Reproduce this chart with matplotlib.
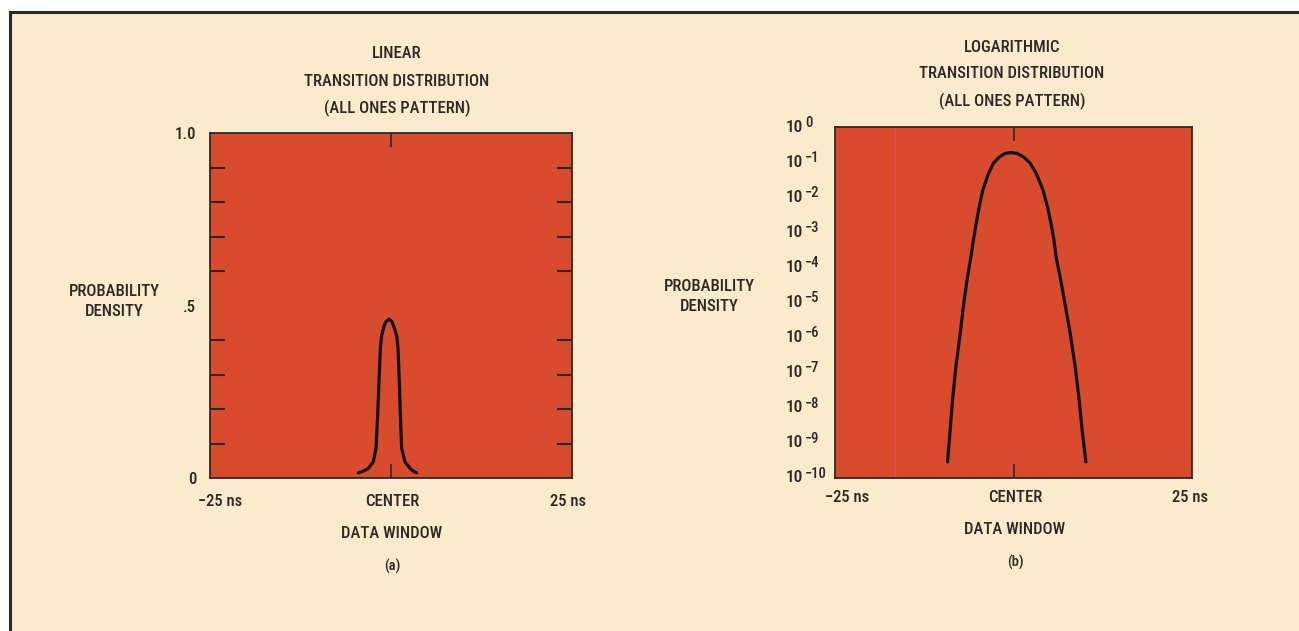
import matplotlib
matplotlib.use("Agg")
import matplotlib.pyplot as plt
from matplotlib import font_manager
from matplotlib.lines import Line2D
from matplotlib.patches import Rectangle
from matplotlib.transforms import blended_transform_factory
import numpy as np

# colours
PAPER = "#f9ebcc"
RED = "#d84b2d"
INK = "#2f2724"

FONT = "Liberation Sans"
for name in ["Liberation Sans Narrow", "Roboto Condensed", "Open Sans Condensed"]:
    try:
        font_manager.findfont(name, fallback_to_default=False)
        FONT = name
        break
    except ValueError:
        pass

plt.rcParams['font.family'] = [FONT, 'DejaVu Sans']
plt.rcParams['font.weight'] = 'medium'

# data
# (a) linear transition distribution, time in ns, probability density
lin_t = [-4.51, -3.80, -3.13, -2.44, -2.07, -1.84, -1.66, -1.47, -1.29, -0.92, -0.69, -0.28,
         0.14, 0.32, 0.78, 0.97, 1.15, 1.29, 1.47, 1.93, 2.62, 3.05, 3.55]
lin_p = [0.015, 0.020, 0.028, 0.047, 0.086, 0.183, 0.279, 0.376, 0.414, 0.443, 0.453, 0.461,
         0.453, 0.443, 0.414, 0.376, 0.279, 0.183, 0.086, 0.047, 0.028, 0.020, 0.015]

# (b) logarithmic transition distribution, log10 of density
log_t = [-9.24, -8.91, -8.54, -8.07, -7.46, -7.00, -6.50, -6.00, -5.60, -5.22, -4.80, -4.29,
         -3.50, -2.80, -1.96, -1.16, -0.37, 0.48, 1.40, 2.34, 3.18, 4.12, 4.76, 5.24, 5.65,
         6.00, 6.60, 7.24, 7.94, 8.64, 9.20, 9.66, 10.14]
log_p = [-9.54, -8.73, -7.78, -6.83, -5.88, -5.07, -4.35, -3.74, -3.20, -2.74, -2.27, -1.79,
         -1.32, -1.03, -0.85, -0.75, -0.73, -0.75, -0.85, -1.03, -1.32, -1.79, -2.27, -2.74, -3.20,
         -3.74, -4.35, -5.07, -5.88, -6.83, -7.78, -8.73, -9.54]

lin_ticks = [0, 0.5, 1.0]
lin_ticklabels = ["0", ".5", "1.0"]
log_exps = list(range(0, -11, -1))
x_labels = ["\u221225 ns", "CENTER", "25 ns"]

W, H = 1299, 631
fig = plt.figure(figsize=(W / 100, H / 100), dpi=100)
fig.patch.set_facecolor("white")

def px(x, y):
    return x / W, 1 - y / H

# paper and border
fig.patches.append(Rectangle(px(10, H), (W - 10) / W, (H - 12) / H,
                             transform=fig.transFigure, facecolor=PAPER, edgecolor="none", zorder=-5))
fig.lines.append(Line2D([10 / W, 10 / W], [0, 1 - 12 / H], transform=fig.transFigure, color="#2a2a2a", lw=2.2, zorder=-4))
fig.lines.append(Line2D([10 / W, 1], [1 - 12 / H, 1 - 12 / H], transform=fig.transFigure, color="#2a2a2a", lw=2.2, zorder=-4))

fs = 12

def style(ax):
    ax.set_facecolor(RED)
    for s in ax.spines.values():
        s.set_color(INK)
        s.set_linewidth(1.3)
    ax.set_xlim(-25, 25)
    ax.set_xticks([0])
    ax.set_xticklabels([])
    ax.tick_params(axis="x", direction="in", length=10, width=1.2, color=INK, top=True, bottom=True)
    ax.tick_params(axis="y", direction="in", length=11, width=1.5, color=INK, left=True, right=True,
                   labelsize=fs, labelcolor=INK, pad=10)
    ax.tick_params(which="minor", direction="in", length=11, width=1.5, color=INK, left=True, right=True)

# panel (a)
ax1 = fig.add_axes([210 / W, 1 - 478 / H, 362 / W, 345 / H])
style(ax1)
ax1.set_ylim(0, 1.0)
ax1.set_yticks(lin_ticks)
ax1.set_yticklabels(lin_ticklabels)
ax1.set_yticks(np.arange(1, 10) / 10, minor=True)
ax1.tick_params(axis="y", which="major", length=0)
ax1.plot(lin_t, lin_p, color="#111111", lw=2.3, solid_joinstyle="round", solid_capstyle="round")

# panel (b)
ax2 = fig.add_axes([835 / W, 1 - 478 / H, 357 / W, 351 / H])
style(ax2)
ax2.set_ylim(-10, 0)
ax2.set_yticks(log_exps)
ax2.set_yticklabels([])
ax2.tick_params(axis="y", which="major", length=0)
ax2.set_yticks(log_exps[1:-1], minor=True)
ax2.axvline(-16.6, color="#e2557a", lw=0.8, alpha=0.6)
ax2.plot(log_t, log_p, color="#111111", lw=2.3, solid_joinstyle="round", solid_capstyle="round")

# log tick labels: "10" with a raised exponent
tr = blended_transform_factory(fig.transFigure, ax2.transData)
for e in log_exps:
    ax2.text(786 / W, e, "10", transform=tr, ha="left", va="center", fontsize=fs + 0.5, color=INK, clip_on=False)
    sup = "0" if e == 0 else "\u2212" + str(-e)
    ax2.text(805 / W, e + 0.12, sup, transform=tr, ha="left", va="center", fontsize=fs - 1.5,
             color=INK, clip_on=False)

# texts
def t(x, y, s, size=fs):
    fig.text(x / W, 1 - y / H, s, ha="center", va="center", fontsize=size, color=INK)

for cx, top, name in [(397, 54, "LINEAR"), (1012, 47, "LOGARITHMIC")]:
    t(cx, top, name)
    t(cx, top + 27, "TRANSITION DISTRIBUTION")
    t(cx, top + 54, "(ALL ONES PATTERN)")

t(114, 291, "PROBABILITY")
t(114, 311, "DENSITY")
t(709, 287, "PROBABILITY")
t(709, 307, "DENSITY")

for xs, y, dw, lt in [((220, 392, 568), 502, 534, "(a)"), ((847, 1015, 1190), 497, 530, "(b)")]:
    for x, s in zip(xs, x_labels):
        t(x, y, s)
    t(xs[1], dw, "DATA WINDOW")
    t(xs[1], dw + 32, lt, size=fs - 1.5)

fig.savefig("out.png", dpi=100, facecolor=fig.get_facecolor())
